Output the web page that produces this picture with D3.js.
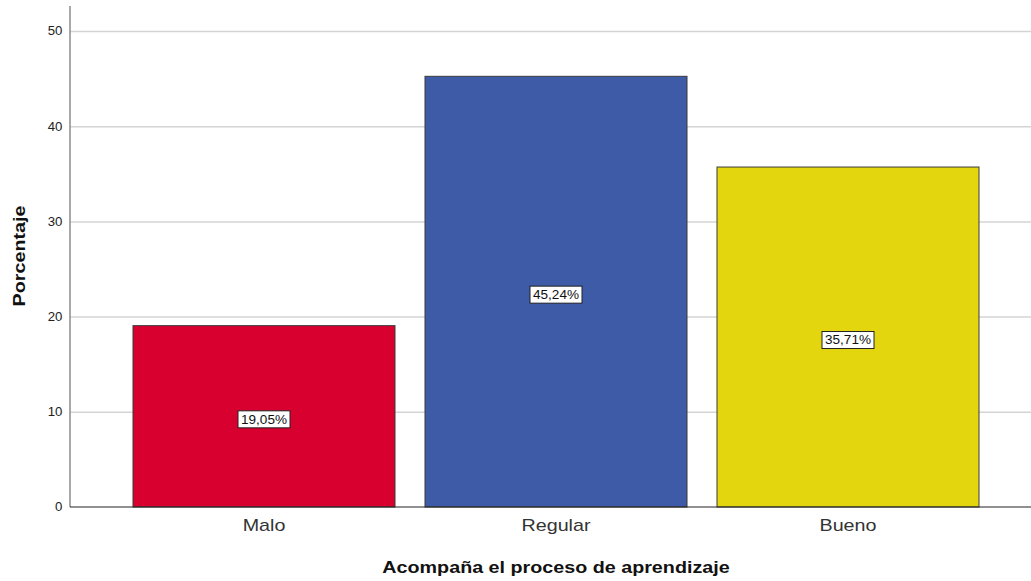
<!DOCTYPE html>
<html>
<head>
<meta charset="utf-8">
<script src="https://cdn.jsdelivr.net/npm/d3@7"></script>
<style>
  body { margin: 0; background: #fff; }
  text { font-family: Arial, "Liberation Sans", sans-serif; }
</style>
</head>
<body>
<div id="chart"></div>
<script>
var categories = ["Malo", "Regular", "Bueno"];
var values = [19.05, 45.24, 35.71];
var labels = ["19,05%", "45,24%", "35,71%"];
var colors = ["#d7002f", "#3e5ba8", "#e3d60f"];
var yTicks = [0, 10, 20, 30, 40, 50];

var full_width = 1031, full_height = 581;
var margin = {top: 6, left: 70, bottom: 74};
var plotRight = 1042;
var stretch = 1.16; // the reference text is drawn a bit wide

var svg = d3.select("#chart").append("svg")
  .attr("width", full_width)
  .attr("height", full_height);

var y = d3.scaleLinear()
  .domain([0, 50])
  .range([507, 31]);

var x = d3.scaleBand()
  .domain(categories)
  .range([margin.left, plotRight])
  .paddingInner(30 / 292)
  .paddingOuter(63 / 292);

// gridlines
svg.append("g")
  .selectAll("line")
  .data(yTicks.slice(1))
  .enter().append("line")
  .attr("x1", margin.left)
  .attr("x2", full_width)
  .attr("y1", d => y(d) + 0.5)
  .attr("y2", d => y(d) + 0.5)
  .attr("stroke", "#d4d4d4")
  .attr("stroke-width", 1.5);

// bars
svg.append("g")
  .selectAll("rect")
  .data(values)
  .enter().append("rect")
  .attr("x", (d, i) => x(categories[i]))
  .attr("y", d => y(d))
  .attr("width", x.bandwidth())
  .attr("height", d => y(0) - y(d))
  .attr("fill", (d, i) => colors[i])
  .attr("stroke", "#3a3a3a")
  .attr("stroke-width", 1);

// y axis
var yAxis = svg.append("g")
  .attr("transform", "translate(" + margin.left + ",0)")
  .call(d3.axisLeft(y).tickValues(yTicks).tickSize(0).tickPadding(7));
yAxis.select(".domain").remove();
yAxis.selectAll("text")
  .style("font-size", "12px")
  .attr("transform", "scale(1.1,1)")
  .attr("fill", "#222");
svg.append("line")
  .attr("x1", margin.left).attr("x2", margin.left)
  .attr("y1", margin.top).attr("y2", y(0))
  .attr("stroke", "#8c8c8c")
  .attr("stroke-width", 1.5);

// x axis
var xAxis = svg.append("g")
  .attr("transform", "translate(0," + y(0) + ")")
  .call(d3.axisBottom(x).tickSize(0).tickPadding(12));
xAxis.select(".domain").remove();
xAxis.selectAll("text")
  .style("font-size", "17px")
  .attr("transform", "scale(" + stretch + ",1)")
  .attr("fill", "#333");
svg.append("line")
  .attr("x1", margin.left).attr("x2", full_width)
  .attr("y1", y(0)).attr("y2", y(0))
  .attr("stroke", "#222")
  .attr("stroke-width", 1.2);

// value labels
var lab = svg.append("g")
  .selectAll("g")
  .data(values)
  .enter().append("g")
  .attr("transform", (d, i) => "translate(" + (x(categories[i]) + x.bandwidth() / 2) + "," + ((y(d) + y(0)) / 2 + 3) + ")");
lab.append("rect")
  .attr("x", -26).attr("y", -8.5)
  .attr("width", 52).attr("height", 17)
  .attr("fill", "#fff")
  .attr("stroke", "#222")
  .attr("stroke-width", 1);
lab.append("text")
  .attr("text-anchor", "middle")
  .attr("dy", "0.36em")
  .attr("transform", "scale(1.13,1)")
  .style("font-size", "12px")
  .attr("fill", "#111")
  .text((d, i) => labels[i]);

// axis titles
svg.append("text")
  .attr("transform", "translate(25,256) rotate(-90) scale(" + stretch + ",1)")
  .attr("text-anchor", "middle")
  .style("font-size", "17px")
  .style("font-weight", "bold")
  .attr("fill", "#111")
  .text("Porcentaje");

svg.append("text")
  .attr("transform", "translate(556,573) scale(" + stretch + ",1)")
  .attr("text-anchor", "middle")
  .style("font-size", "17px")
  .style("font-weight", "bold")
  .attr("fill", "#111")
  .text("Acompaña el proceso de aprendizaje");
</script>
</body>
</html>
